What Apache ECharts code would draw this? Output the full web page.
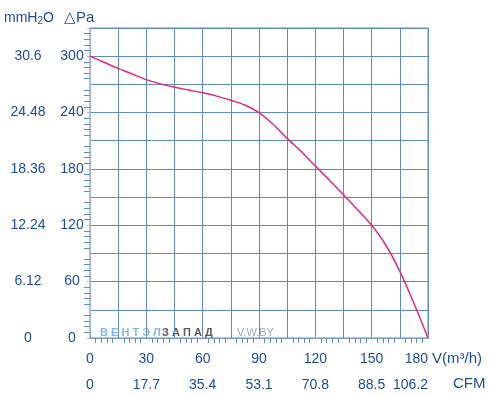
<!DOCTYPE html>
<html>
<head>
<meta charset="utf-8">
<script src="https://cdn.jsdelivr.net/npm/echarts@6/dist/echarts.min.js"></script>
<style>
html,body{margin:0;padding:0;background:#fff;}
#chart{width:489px;height:396px;}
</style>
</head>
<body>
<div id="chart"></div>
<script>
// ---- data ----
const flow = [0, 7.5, 15, 22.5, 30, 37.5, 45, 52.5, 60, 67.5, 75, 82.5, 90, 97.5, 105, 112.5, 120, 127.5, 135, 142.5, 150, 157.5, 165, 172.5, 180];
const pressure = [300, 293.5, 287, 281, 275, 270.5, 267, 264, 261, 257.5, 253, 248, 240, 227.5, 212.5, 198.5, 183, 168, 152.5, 136.5, 120, 99, 71, 37, 0];
const cfmLabels = ['0', '17.7', '35.4', '53.1', '70.8', '88.5', '106.2'];
const mmLabels = ['0', '6.12', '12.24', '18.36', '24.48', '30.6'];

const labelColor = '#1d4c9a';
const gridColor = '#5f8ac2';
const font = 'Liberation Sans, Arial, sans-serif';

const chart = echarts.init(document.getElementById('chart'), null, {renderer: 'canvas'});
chart.setOption({
  animation: false,
  grid: {left: 90, right: 61, top: 28, bottom: 58, show: true, borderColor: gridColor, borderWidth: 1,
         containLabel: false, outerBoundsMode: 'none'},
  xAxis: [
    {
      type: 'value', min: 0, max: 180, interval: 15, position: 'bottom',
      axisLine: {show: true, lineStyle: {color: gridColor}},
      axisTick: {show: false},
      minorTick: {show: true, splitNumber: 5, length: 5, lineStyle: {color: gridColor}},
      axisLabel: {
        color: labelColor, fontSize: 14, fontFamily: font, margin: 14, alignMaxLabel: 'right',
        formatter: v => (v % 30 === 0 ? String(v) : '')
      },
      splitLine: {show: true, lineStyle: {color: gridColor, width: 1}}
    },
    {
      type: 'value', min: 0, max: 180, interval: 30, position: 'bottom', offset: 32,
      axisLine: {show: true, lineStyle: {color: '#7f9fcb'}},
      axisTick: {show: true, inside: true, length: 4, lineStyle: {color: '#7f9fcb'}},
      axisLabel: {
        color: labelColor, fontSize: 14, fontFamily: font, margin: 8, alignMaxLabel: 'right',
        formatter: v => { const i = Math.round(v / 30); return cfmLabels[i] !== undefined ? cfmLabels[i] : ''; }
      },
      splitLine: {show: false}
    }
  ],
  yAxis: [
    {
      type: 'value', min: 0, max: 330, interval: 30, position: 'left',
      axisLine: {show: true, lineStyle: {color: gridColor}},
      axisTick: {show: false},
      minorTick: {show: true, splitNumber: 5, length: 6, lineStyle: {color: gridColor}},
      axisLabel: {
        color: labelColor, fontSize: 14, fontFamily: font, margin: 18, align: 'center',
        formatter: v => (v % 60 === 0 && v <= 300 ? String(v) : '')
      },
      splitLine: {show: true, lineStyle: {color: gridColor, width: 1}}
    },
    {
      type: 'value', min: 0, max: 330, interval: 60, position: 'left', offset: 34,
      axisLine: {show: true, lineStyle: {color: '#9fb6d6'}},
      axisTick: {show: true, length: 3, lineStyle: {color: '#9fb6d6'}},
      axisLabel: {
        color: labelColor, fontSize: 14, fontFamily: font, margin: 28, align: 'center',
        formatter: v => { const i = Math.round(v / 60); return (v % 60 === 0 && mmLabels[i] !== undefined) ? mmLabels[i] : ''; }
      },
      splitLine: {show: false}
    }
  ],
  graphic: [
    {type: 'text', x: 4, y: 18, silent: true, style: {
      text: '{a|mmH}{b|2}{a|O}', verticalAlign: 'middle',
      rich: {
        a: {fill: labelColor, fontSize: 14, fontFamily: font},
        b: {fill: labelColor, fontSize: 10, fontFamily: font, padding: [6, 0, 0, 0]}
      }}},
    {type: 'text', x: 64, y: 18, silent: true, style: {text: '△Pa', fill: labelColor, font: '15px ' + font, verticalAlign: 'middle'}},
    {type: 'text', x: 432, y: 359, silent: true, style: {text: 'V(m³/h)', fill: labelColor, font: '15px ' + font, verticalAlign: 'middle'}},
    {type: 'text', x: 453, y: 384, silent: true, style: {text: 'CFM', fill: labelColor, font: '15px ' + font, verticalAlign: 'middle'}},
    {type: 'text', left: 100, top: 327, silent: true, style: {text: 'В Е Н Т Э Л', fill: '#86b6e6', font: 'bold 11px ' + font}},
    {type: 'text', left: 162, top: 327, silent: true, style: {text: 'З А П А Д', fill: '#5a5a5a', font: 'bold 11px ' + font}},
    {type: 'text', left: 237, top: 327, silent: true, style: {text: 'V.W.BY', fill: '#a0a8b4', font: '11px ' + font}}
  ],
  series: [{
    type: 'line',
    xAxisIndex: 0, yAxisIndex: 0,
    data: flow.map((f, i) => [f, pressure[i]]),
    smooth: 0.3,
    showSymbol: false,
    lineStyle: {color: '#e0287f', width: 1.5}
  }]
});
</script>
</body>
</html>
